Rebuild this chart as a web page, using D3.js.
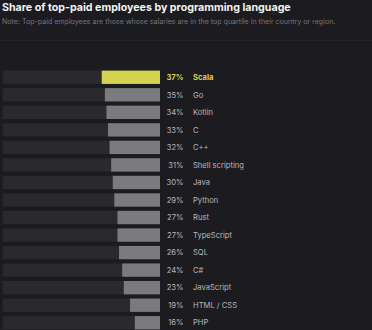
<!DOCTYPE html>
<html><head><meta charset="utf-8">
<script src="https://cdn.jsdelivr.net/npm/d3@7"></script>
<style>
html,body{margin:0;padding:0;background:#1c1b20;}
svg{display:block;}
</style></head>
<body>
<svg id="c" width="372" height="330"></svg>
<script>
const languages = ["Scala","Go","Kotlin","C","C++","Shell scripting","Java","Python","Rust","TypeScript","SQL","C#","JavaScript","HTML / CSS","PHP"];
const shares = [37,35,34,33,32,31,30,29,27,27,26,24,23,19,16];
const highlight = "Scala";
const title = "Share of top-paid employees by programming language";
const note = "Note: Top-paid employees are those whose salaries are in the top quartile in their country or region.";

const svg = d3.select("#c");
const font = "Inter, 'Noto Sans', sans-serif";
svg.append("rect").attr("width",372).attr("height",330).attr("fill","#1c1b20");

function fit(sel, target){
  const w = sel.node().getComputedTextLength();
  const fs = parseFloat(sel.attr("font-size"));
  sel.attr("font-size", fs*target/w);
}
const t = svg.append("text").attr("x",2).attr("y",10.8).text(title)
  .attr("font-family",font).attr("font-weight",700).attr("font-size",11).attr("fill","#f2f2f2");
fit(t, 289);
const n = svg.append("text").attr("x",2).attr("y",24).text(note)
  .attr("font-family",font).attr("font-size",7).attr("fill","#76757b");
fit(n, 334);
svg.append("line").attr("x1",0).attr("x2",372).attr("y1",40.5).attr("y2",40.5).attr("stroke","#26252b");

const x = d3.scaleLinear().domain([0,100]).range([160,2.5]);
const y = d3.scaleBand().domain(languages).range([68.5,331.5]).paddingInner(0.24).paddingOuter(0.12);

const rows = svg.append("g").selectAll("g").data(languages).join("g");
rows.append("rect").attr("x",x(100)).attr("width",x(0)-x(100))
  .attr("y",d=>y(d)).attr("height",y.bandwidth()).attr("fill","#2a292e");
rows.append("rect").attr("x",(d,i)=>x(shares[i])).attr("width",(d,i)=>x(0)-x(shares[i]))
  .attr("y",d=>y(d)).attr("height",y.bandwidth())
  .attr("fill",d=>d===highlight?"#d3d34f":"#7b7a7f");
rows.append("text").attr("x",183.5).attr("y",d=>y(d)+y.bandwidth()/2+2.7)
  .attr("text-anchor","end").text((d,i)=>shares[i]+"%")
  .attr("font-family",font).attr("font-size",7.6)
  .attr("font-weight",d=>d===highlight?700:400)
  .attr("fill",d=>d===highlight?"#d3d34f":"#b9b8bd");
rows.append("text").attr("x",193).attr("y",d=>y(d)+y.bandwidth()/2+2.7)
  .text(d=>d)
  .attr("font-family",font).attr("font-size",7.6)
  .attr("font-weight",d=>d===highlight?700:400)
  .attr("fill",d=>d===highlight?"#d3d34f":"#b9b8bd");
</script>
</body></html>
